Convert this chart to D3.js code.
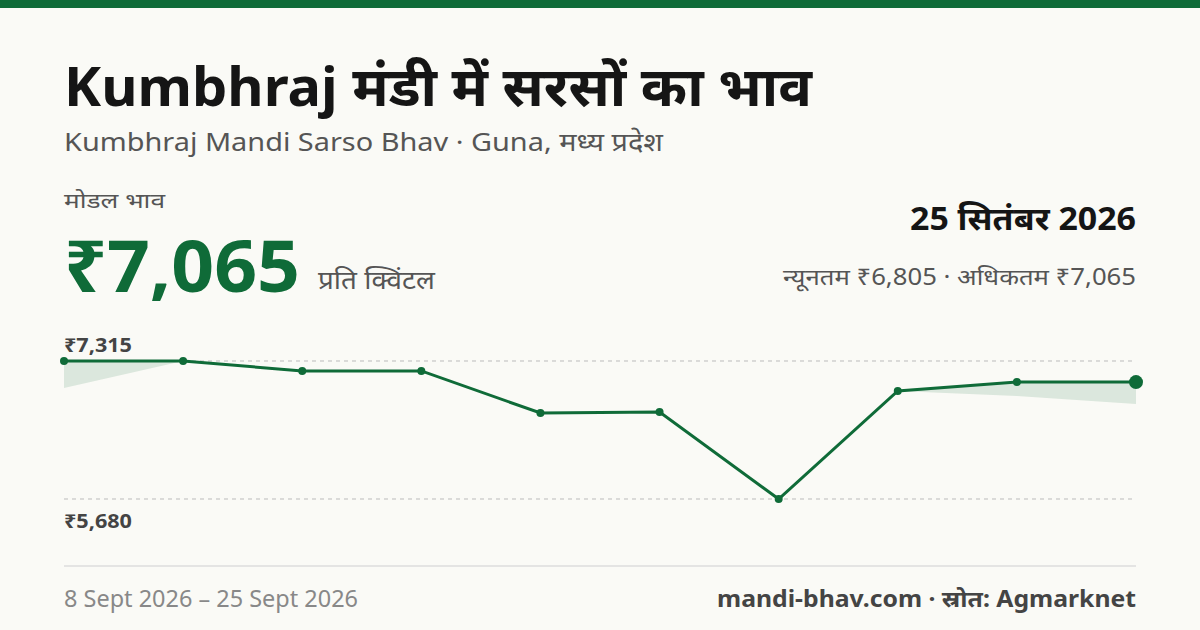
<!DOCTYPE html>
<html><head><meta charset="utf-8">
<script src="https://cdn.jsdelivr.net/npm/d3@7/dist/d3.min.js"></script>
<style>body{margin:0;background:#fafaf6}svg{display:block}</style>
</head><body>
<svg id="chart" width="1200" height="630"></svg>
<script>
// modal / min price per day, 8 Sept – 25 Sept 2026
const dates = ["8 Sept", "10 Sept", "11 Sept", "12 Sept", "15 Sept", "16 Sept", "18 Sept", "22 Sept", "24 Sept", "25 Sept"];
const modalPrices = [7315, 7315, 7197, 7197, 6699, 6711, 5680, 6960, 7066, 7065];
const minPrices = [6995, 7315, 7197, 7197, 6699, 6711, 5680, 6960, 6900, 6805];

const svg = d3.select("#chart");
const font = "'Noto Sans', sans-serif";
const green = "#0f6b38";

svg.append("rect").attr("width", 1200).attr("height", 630).attr("fill", "#fafaf6");
svg.append("rect").attr("width", 1200).attr("height", 8).attr("fill", green);

// width = target rendered width, to match the reference
function txt(x, y, s, size, weight, fill, anchor, width) {
    const t = svg.append("text").attr("x", x).attr("y", y).text(s)
        .attr("font-family", font).attr("font-size", size).attr("font-weight", weight)
        .attr("fill", fill).attr("text-anchor", anchor || "start");
    if (width) t.attr("textLength", width).attr("lengthAdjust", "spacingAndGlyphs");
    return t;
}

txt(64, 106, "Kumbhraj मंडी में सरसों का भाव", 54, 700, "#151515", "start", 748);
txt(64, 151, "Kumbhraj Mandi Sarso Bhav · Guna, मध्य प्रदेश", 25, 400, "#555", "start", 599);
txt(64, 208, "मोडल भाव", 20, 400, "#555", "start", 101);
txt(64, 292, "₹7,065", 72, 700, green, "start", 236);
txt(318, 289, "प्रति क्विंटल", 25, 400, "#555", "start", 117);
txt(1136, 230, "25 सितंबर 2026", 32, 700, "#151515", "end", 226);
txt(1136, 285, "न्यूनतम ₹6,805 · अधिकतम ₹7,065", 23, 400, "#555", "end", 353);

const x = d3.scalePoint().domain(d3.range(dates.length)).range([64, 1136]);
const y = d3.scaleLinear().domain([5680, 7315]).range([499, 361]);

[7315, 5680].forEach(v => {
    svg.append("line").attr("x1", 64).attr("x2", 1136).attr("y1", y(v)).attr("y2", y(v))
        .attr("stroke", "#bbb").attr("stroke-dasharray", "4,4");
});
txt(64, 352, "₹7,315", 19, 700, "#444", "start", 68);
txt(64, 528, "₹5,680", 19, 700, "#444", "start", 68);

svg.append("path").datum(d3.range(dates.length))
    .attr("d", d3.area().x(i => x(i)).y0(i => y(minPrices[i])).y1(i => y(modalPrices[i])))
    .attr("fill", green).attr("opacity", 0.13);

svg.append("path").datum(modalPrices)
    .attr("d", d3.line().x((d, i) => x(i)).y(d => y(d)))
    .attr("fill", "none").attr("stroke", green).attr("stroke-width", 3);

svg.selectAll("circle.pt").data(modalPrices).enter().append("circle")
    .attr("cx", (d, i) => x(i)).attr("cy", d => y(d))
    .attr("r", (d, i) => i === modalPrices.length - 1 ? 7 : 4).attr("fill", green);

svg.append("line").attr("x1", 64).attr("x2", 1136).attr("y1", 566).attr("y2", 566)
    .attr("stroke", "#ddd").attr("stroke-width", 1.5);
txt(64, 607, "8 Sept 2026 – 25 Sept 2026", 23, 400, "#888", "start", 294);
txt(1136, 607, "mandi-bhav.com · स्रोत: Agmarknet", 23, 700, "#444", "end", 419);
</script>
</body></html>
